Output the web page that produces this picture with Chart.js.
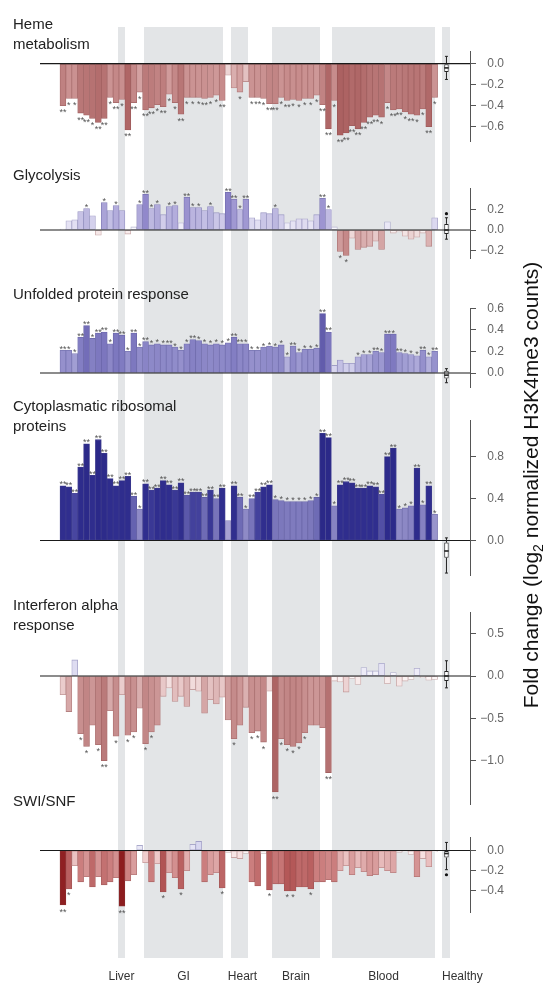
<!DOCTYPE html>
<html>
<head>
<meta charset="utf-8">
<script src="https://cdn.jsdelivr.net/npm/chart.js@4.4.1/dist/chart.umd.min.js"></script>
<style>
  body { margin: 0; background: #fff; }
  #fig { position: relative; width: 552px; height: 987px; font-family: 'Liberation Sans', Arial, sans-serif; overflow: hidden; }
  #fig canvas { position: absolute; left: 0; }
  .ttl { position: absolute; left: 13px; font-size: 15px; line-height: 20px; color: #222; z-index: 2; white-space: nowrap; }
  #ylab { position: absolute; left: 231px; top: 472px; width: 600px; text-align: center; font-size: 21px; line-height: 26px; color: #111;
          transform: rotate(-90deg); transform-origin: 300px 13px; z-index: 2; white-space: nowrap; }
  #ylab sub { font-size: 14px; }
</style>
</head>
<body>
<div id="fig">
  <div class="ttl" style="top:14px">Heme<br>metabolism</div>
  <div class="ttl" style="top:165px">Glycolysis</div>
  <div class="ttl" style="top:284px">Unfolded protein response</div>
  <div class="ttl" style="top:396px">Cytoplasmatic ribosomal<br>proteins</div>
  <div class="ttl" style="top:595px">Interferon alpha<br>response</div>
  <div class="ttl" style="top:791px">SWI/SNF</div>
  <div id="ylab">Fold change (log<sub>2</sub> normalized H3K4me3 counts)</div>
</div>
<script>
// fold change per sample group (64 groups); healthy reference sits at slot 65
const heme = [-0.40,-0.33,-0.33,-0.47,-0.49,-0.52,-0.56,-0.52,-0.32,-0.37,
  -0.34,-0.63,-0.37,-0.27,-0.44,-0.42,-0.39,-0.41,-0.29,-0.37,
  -0.48,-0.32,-0.32,-0.32,-0.33,-0.32,-0.30,-0.35,-0.11,-0.23,
  -0.27,-0.17,-0.32,-0.32,-0.33,-0.38,-0.38,-0.32,-0.35,-0.34,
  -0.35,-0.33,-0.33,-0.30,-0.39,-0.62,-0.35,-0.68,-0.66,-0.59,
  -0.62,-0.56,-0.51,-0.49,-0.51,-0.37,-0.44,-0.43,-0.46,-0.48,
  -0.49,-0.43,-0.60,-0.32];
const hemeSig = [2,1,1,2,2,1,2,2,1,2, 1,2,2,1,2,2,1,2,1,1, 2,1,1,1,2,1,1,2,0,0,
  1,0,1,2,1,2,2,1,2,1, 1,1,1,1,2,2,1,2,2,2, 2,2,2,2,1,1,2,2,1,2, 1,1,2,1];

const glycolysis = [0.01,0.09,0.10,0.18,0.21,0.14,-0.05,0.27,0.19,0.24,
  0.19,-0.04,0.03,0.25,0.35,0.21,0.25,0.15,0.23,0.24,
  0.07,0.32,0.22,0.22,0.19,0.23,0.17,0.16,0.37,0.30,
  0.20,0.30,0.12,0.10,0.17,0.16,0.21,0.15,0.07,0.09,
  0.11,0.11,0.09,0.15,0.31,0.20,0.03,-0.21,-0.25,-0.08,
  -0.19,-0.17,-0.16,-0.11,-0.19,0.08,-0.03,-0.02,-0.06,-0.09,
  -0.07,-0.03,-0.16,0.12];
const glycolysisSig = [0,0,0,0,1,0,0,1,0,1, 0,0,0,1,2,1,1,0,1,1, 0,2,1,1,0,1,0,0,2,2,
  1,2,0,0,0,0,1,0,0,0, 0,0,0,0,2,1,0,1,1,0, 0,0,0,0,0,0,0,0,0,0, 0,0,0,0];

const unfolded = [0.21,0.21,0.18,0.33,0.44,0.32,0.37,0.38,0.27,0.37,
  0.35,0.20,0.37,0.24,0.29,0.26,0.27,0.26,0.26,0.24,
  0.21,0.27,0.31,0.30,0.27,0.26,0.27,0.26,0.28,0.33,
  0.27,0.27,0.21,0.21,0.24,0.25,0.24,0.26,0.15,0.25,
  0.19,0.22,0.22,0.23,0.55,0.38,0.07,0.12,0.09,0.09,
  0.15,0.17,0.17,0.20,0.19,0.36,0.36,0.19,0.18,0.17,
  0.16,0.21,0.15,0.20];
const unfoldedSig = [2,1,1,2,2,1,2,2,1,2, 2,1,2,1,2,1,1,1,2,1, 1,1,2,1,1,1,1,1,1,2,
  2,1,1,1,1,1,1,1,1,2, 1,1,1,1,2,2,0,0,0,0, 1,1,1,2,1,2,1,2,1,1, 1,2,1,2];

const ribosomal = [0.52,0.51,0.45,0.70,0.92,0.62,0.96,0.83,0.59,0.52,
  0.57,0.61,0.42,0.30,0.54,0.48,0.50,0.57,0.53,0.48,
  0.55,0.43,0.46,0.46,0.41,0.48,0.40,0.50,0.19,0.52,
  0.41,0.30,0.40,0.46,0.51,0.53,0.39,0.38,0.37,0.37,
  0.37,0.37,0.38,0.41,1.02,0.98,0.33,0.53,0.56,0.55,
  0.50,0.50,0.52,0.51,0.44,0.80,0.88,0.30,0.31,0.33,
  0.69,0.34,0.52,0.25];
const ribosomalSig = [2,2,2,2,2,2,2,2,2,2, 2,2,2,1,2,2,2,2,2,2, 2,2,2,2,2,2,2,2,0,2,
  2,1,2,2,2,2,1,1,1,1, 1,1,1,1,2,2,1,2,2,2, 2,2,2,2,2,2,2,1,1,1, 2,1,2,1];

const interferon = [-0.22,-0.42,0.19,-0.68,-0.83,-0.58,-0.81,-1.00,-0.41,-0.71,
  -0.22,-0.70,-0.66,-0.38,-0.80,-0.66,-0.58,-0.24,-0.14,-0.30,
  -0.24,-0.36,-0.16,-0.18,-0.44,-0.28,-0.33,-0.25,-0.52,-0.74,
  -0.58,-0.37,-0.67,-0.65,-0.78,-0.18,-1.37,-0.74,-0.81,-0.83,
  -0.79,-0.67,-0.58,-0.58,-0.61,-1.14,-0.06,-0.07,-0.19,-0.03,
  -0.10,0.10,0.06,0.06,0.15,-0.09,0.04,-0.12,-0.06,-0.04,
  0.09,-0.02,-0.05,-0.04];
const interferonSig = [0,0,0,1,1,0,1,2,0,1, 0,1,1,0,1,1,0,0,0,0, 0,0,0,0,0,0,0,0,0,1,
  0,0,1,1,1,0,2,1,1,1, 1,1,0,0,0,2,0,0,0,0, 0,0,0,0,0,0,0,0,0,0, 0,0,0,0];

const swisnf = [-0.54,-0.38,-0.15,-0.31,-0.26,-0.36,-0.26,-0.34,-0.31,-0.27,
  -0.55,-0.30,-0.24,0.05,-0.12,-0.31,-0.13,-0.41,-0.22,-0.27,
  -0.38,-0.20,0.06,0.09,-0.31,-0.24,-0.22,-0.37,-0.02,-0.07,
  -0.08,-0.03,-0.31,-0.35,-0.03,-0.39,-0.33,-0.33,-0.40,-0.40,
  -0.36,-0.36,-0.38,-0.31,-0.31,-0.29,-0.31,-0.20,-0.15,-0.24,
  -0.17,-0.21,-0.25,-0.24,-0.17,-0.20,-0.22,-0.02,-0.01,-0.04,
  -0.26,-0.08,-0.16,-0.01];
const swisnfSig = [2,1,0,0,0,0,0,0,0,0, 2,0,0,0,0,0,0,1,0,0, 1,0,0,0,0,0,0,1,0,0,
  0,0,0,0,0,1,0,0,1,1, 0,0,1,0,0,0,0,0,0,0, 0,0,0,0,0,0,0,0,0,0, 0,0,0,0];

// healthy samples: [whisker low, q1, median, q3, whisker high]
const hemeHealthy = [-0.15, -0.08, -0.04, 0.0, 0.07];
const glycolysisHealthy = [-0.09, -0.04, 0.0, 0.06, 0.12];
const unfoldedHealthy = [-0.09, -0.05, -0.02, 0.02, 0.04];
const ribosomalHealthy = [-0.31, -0.165, -0.10, -0.02, 0.025];
const interferonHealthy = [-0.14, -0.06, 0.0, 0.06, 0.18];
const swisnfHealthy = [-0.19, -0.07, -0.03, 0.0, 0.08];
const glycolysisOutliers = [0.16];
const swisnfOutliers = [-0.24];

const hemeTicks = [0, -0.2, -0.4, -0.6];
const glycolysisTicks = [0.2, 0, -0.2];
const unfoldedTicks = [0.6, 0.4, 0.2, 0];
const ribosomalTicks = [0.8, 0.4, 0];
const interferonTicks = [0.5, 0, -0.5, -1.0];
const swisnfTicks = [0, -0.2, -0.4];

// tissue groups and the slot range each grey band covers
const tissues = ['Liver', 'GI', 'Heart', 'Brain', 'Blood', 'Healthy'];
const tissueFrom = [9.33, 13.74, 28.48, 35.43, 45.6, 64.24];
const tissueTo = [10.52, 27.13, 31.36, 43.57, 63.06, 65.6];

const HEALTHY_SLOT = 65;
const BAND_TOP = 27, BAND_BOTTOM = 958;   // page y of the grey bands
const W = 552;

const white = [255, 255, 255];
const redLight = [[0, white], [0.05, [248, 234, 234]], [0.2, [230, 200, 200]]];
const blueLight = [[0, white], [0.05, [244, 243, 251]], [0.2, [220, 218, 240]]];

const panels = [
  { values: heme, sig: hemeSig, box: hemeHealthy, out: [], ticks: hemeTicks,
    top: 0, bottom: 160, zero: 63.7, ppu: 105, min: -0.74, max: 0.12,
    neg: [[0, white], [0.1, [238, 215, 215]], [0.3, [206, 152, 152]], [0.42, [188, 124, 124]], [0.7, [170, 95, 95]]],
    pos: blueLight },
  { values: glycolysis, sig: glycolysisSig, box: glycolysisHealthy, out: glycolysisOutliers, ticks: glycolysisTicks,
    top: 160, bottom: 275, zero: 230, ppu: 102, min: -0.275, max: 0.41,
    neg: [[0, white], [0.05, [246, 232, 232]], [0.1, [232, 205, 205]], [0.2, [210, 160, 160]], [0.27, [192, 128, 128]]],
    pos: [[0, white], [0.05, [246, 245, 252]], [0.1, [226, 223, 242]], [0.2, [192, 187, 226]], [0.3, [160, 152, 210]], [0.4, [130, 120, 195]]] },
  { values: unfolded, sig: unfoldedSig, box: unfoldedHealthy, out: [], ticks: unfoldedTicks,
    top: 275, bottom: 405, zero: 373, ppu: 108, min: -0.13, max: 0.60,
    neg: redLight,
    pos: [[0, white], [0.07, [215, 213, 238]], [0.12, [195, 192, 228]], [0.2, [150, 146, 205]], [0.35, [128, 123, 193]], [0.55, [98, 92, 172]]] },
  { values: ribosomal, sig: ribosomalSig, box: ribosomalHealthy, out: [], ticks: ribosomalTicks,
    top: 405, bottom: 595, zero: 540.5, ppu: 105, min: -0.33, max: 1.14,
    neg: redLight,
    pos: [[0, white], [0.15, [175, 170, 215]], [0.3, [142, 138, 198]], [0.4, [120, 116, 186]], [0.45, [72, 70, 160]], [0.5, [48, 46, 142]], [1.1, [42, 40, 135]]] },
  { values: interferon, sig: interferonSig, box: interferonHealthy, out: [], ticks: interferonTicks,
    top: 595, bottom: 825, zero: 676, ppu: 84.7, min: -1.52, max: 0.75,
    neg: [[0, white], [0.1, [248, 235, 235]], [0.2, [236, 208, 208]], [0.4, [215, 170, 170]], [0.6, [203, 148, 148]], [0.9, [190, 128, 128]], [1.4, [172, 98, 98]]],
    pos: blueLight },
  { values: swisnf, sig: swisnfSig, box: swisnfHealthy, out: swisnfOutliers, ticks: swisnfTicks,
    top: 825, bottom: 987, zero: 850.5, ppu: 101, min: -0.61, max: 0.124,
    neg: [[0, white], [0.05, [250, 238, 238]], [0.12, [240, 205, 205]], [0.2, [225, 175, 175]], [0.3, [205, 130, 130]], [0.4, [180, 88, 88]], [0.55, [140, 28, 30]]],
    pos: [[0, white], [0.1, [212, 210, 238]]] }
];

function ramp(stops, m) {
  if (m <= stops[0][0]) return stops[0][1];
  for (let k = 1; k < stops.length; k++) {
    if (m <= stops[k][0]) {
      const t = (m - stops[k - 1][0]) / (stops[k][0] - stops[k - 1][0]);
      return stops[k - 1][1].map((c, j) => c + (stops[k][1][j] - c) * t);
    }
  }
  return stops[stops.length - 1][1];
}
function rgb(c) { return 'rgb(' + c.map(Math.round).join(',') + ')'; }
function edge(c, v) {
  const dark = v >= 0 ? [80, 78, 140] : [130, 70, 70];
  return rgb(c.map((x, j) => x + (dark[j] - x) * 0.4));
}

function makePanel(p, idx) {
  const fig = document.getElementById('fig');
  const cv = document.createElement('canvas');
  cv.width = W; cv.height = p.bottom - p.top;
  cv.style.top = p.top + 'px';
  fig.appendChild(cv);

  const chartTop = p.zero - p.max * p.ppu;
  const chartBottom = p.zero - p.min * p.ppu;
  const fills = p.values.map(v => ramp(v >= 0 ? p.pos : p.neg, Math.abs(v)));

  const bands = {
    id: 'bands' + idx,
    beforeDraw(chart) {
      const ctx = chart.ctx, xs = chart.scales.x;
      const y0 = Math.max(0, BAND_TOP - p.top), y1 = Math.min(chart.height, BAND_BOTTOM - p.top);
      if (y1 <= y0) return;
      ctx.save();
      ctx.fillStyle = '#e3e5e7';
      tissues.forEach((t, i) => {
        const a = xs.getPixelForValue(tissueFrom[i]), b = xs.getPixelForValue(tissueTo[i]);
        ctx.fillRect(a, y0, b - a, y1 - y0);
      });
      ctx.restore();
    }
  };

  const marks = {
    id: 'marks' + idx,
    afterDatasetsDraw(chart) {
      const ctx = chart.ctx, xs = chart.scales.x, ys = chart.scales.y;
      const area = chart.chartArea;
      ctx.save();
      // zero line
      const y0 = ys.getPixelForValue(0);
      ctx.strokeStyle = '#1a1a1a'; ctx.lineWidth = 1.2;
      ctx.beginPath(); ctx.moveTo(area.left, y0); ctx.lineTo(area.right, y0); ctx.stroke();

      // significance stars
      ctx.fillStyle = '#555';
      ctx.font = '9px "Liberation Sans", Arial, sans-serif';
      ctx.textAlign = 'center'; ctx.textBaseline = 'alphabetic';
      chart.getDatasetMeta(0).data.forEach((bar, i) => {
        const s = p.sig[i];
        if (!s) return;
        const txt = '*'.repeat(s);
        if (p.values[i] >= 0) ctx.fillText(txt, bar.x, bar.y + 1.5);
        else ctx.fillText(txt, bar.x, bar.y + 9.5);
      });

      // healthy box plot whiskers, median, outliers
      const [lo, q1, med, q3, hi] = p.box;
      const x = xs.getPixelForValue(HEALTHY_SLOT);
      ctx.strokeStyle = '#222'; ctx.lineWidth = 1;
      const seg = (x1, y1, x2, y2) => { ctx.beginPath(); ctx.moveTo(x1, y1); ctx.lineTo(x2, y2); ctx.stroke(); };
      seg(x, ys.getPixelForValue(lo), x, ys.getPixelForValue(q1));
      seg(x, ys.getPixelForValue(q3), x, ys.getPixelForValue(hi));
      seg(x - 1.5, ys.getPixelForValue(lo), x + 1.5, ys.getPixelForValue(lo));
      seg(x - 1.5, ys.getPixelForValue(hi), x + 1.5, ys.getPixelForValue(hi));
      ctx.lineWidth = 1.6;
      seg(x - 2.2, ys.getPixelForValue(med), x + 2.2, ys.getPixelForValue(med));
      ctx.fillStyle = '#111';
      p.out.forEach(v => { ctx.beginPath(); ctx.arc(x, ys.getPixelForValue(v), 1.6, 0, Math.PI * 2); ctx.fill(); });

      // tissue names under the last panel
      if (idx === panels.length - 1) {
        ctx.fillStyle = '#333';
        ctx.font = '12px "Liberation Sans", Arial, sans-serif';
        ctx.textBaseline = 'alphabetic';
        tissues.forEach((t, i) => {
          const a = xs.getPixelForValue(tissueFrom[i]), b = xs.getPixelForValue(tissueTo[i]);
          if (t === 'Healthy') { ctx.textAlign = 'left'; ctx.fillText(t, a, 980 - p.top); }
          else { ctx.textAlign = 'center'; ctx.fillText(t, (a + b) / 2 + (t === 'Heart' ? 3 : 0), 980 - p.top); }
        });
      }
      ctx.restore();
    }
  };

  return new Chart(cv, {
    type: 'bar',
    data: {
      datasets: [
        {
          data: p.values.map((v, i) => ({ x: i, y: v })),
          backgroundColor: fills.map(rgb),
          borderColor: fills.map((c, i) => edge(c, p.values[i])),
          borderWidth: 0.8,
          borderSkipped: false,
          barPercentage: 1, categoryPercentage: 1, grouped: false
        },
        {
          data: [{ x: HEALTHY_SLOT, y: [p.box[1], p.box[3]] }],
          backgroundColor: '#fff', borderColor: '#222', borderWidth: 1, borderSkipped: false,
          barPercentage: 0.75, categoryPercentage: 1, grouped: false
        }
      ]
    },
    options: {
      responsive: false, animation: false, events: [],
      layout: { padding: { left: 40, right: 48, top: chartTop - p.top, bottom: p.bottom - chartBottom } },
      plugins: { legend: { display: false }, tooltip: { enabled: false } },
      scales: {
        x: { type: 'linear', offset: false, min: -3.89, max: 68.99, display: false, ticks: { stepSize: 10 } },
        y: {
          position: 'right', min: p.min, max: p.max,
          afterBuildTicks: s => { s.ticks = p.ticks.map(v => ({ value: v })); },
          afterFit: s => { s.width = 34; },
          grid: { drawOnChartArea: false, drawTicks: true, tickLength: 6, color: '#555', lineWidth: 1 },
          border: { display: true, color: '#555', width: 1 },
          ticks: {
            color: '#666', padding: 3, crossAlign: 'far',
            font: { family: '"Liberation Sans", Arial, sans-serif', size: 12 },
            callback: v => (v < 0 ? '\u2212' : '') + Math.abs(v).toFixed(1)
          }
        }
      }
    },
    plugins: [bands, marks]
  });
}

panels.forEach(makePanel);
</script>
</body>
</html>
